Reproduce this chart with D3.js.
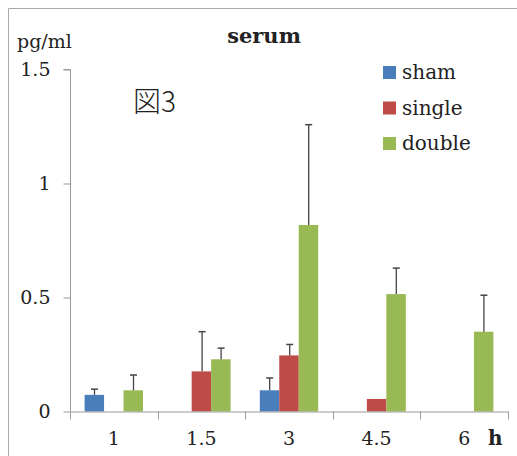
<!DOCTYPE html>
<html>
<head>
<meta charset="utf-8">
<script src="https://cdn.jsdelivr.net/npm/d3@7"></script>
<style>
  body { margin: 0; background: #fff; overflow: hidden; }
  svg { display: block; }
  text { font-family: "DejaVu Serif", "Liberation Serif", serif; fill: #222; }
</style>
</head>
<body>
<div id="chart"></div>
<script>
var width = 517;
var height = 456;

var categories = ["1", "1.5", "3", "4.5", "6"];
var seriesNames = ["sham", "single", "double"];
var seriesColors = ["#4a7ebb", "#be4b48", "#98b954"];
// mean values, 0 where no bar
var shamValues = [0.073, 0, 0.093, 0, 0];
var singleValues = [0, 0.176, 0.246, 0.055, 0];
var doubleValues = [0.093, 0.229, 0.818, 0.515, 0.35];
// upper end of error bar, null when none
var shamErr = [0.098, null, 0.147, null, null];
var singleErr = [null, 0.35, 0.294, null, null];
var doubleErr = [0.16, 0.278, 1.258, 0.629, 0.51];
var yTicks = [0, 0.5, 1, 1.5];

var allValues = [shamValues, singleValues, doubleValues];
var allErr = [shamErr, singleErr, doubleErr];

const svg = d3.select("#chart")
  .append("svg")
  .attr("width", width)
  .attr("height", height);

// outer frame
svg.append("path")
  .attr("d", "M8.5," + height + "V8.5H" + width)
  .attr("fill", "none")
  .attr("stroke", "#aaa")
  .attr("stroke-width", 1);

var x = d3.scaleBand().domain(categories).range([70, 508]);
var inner = d3.scaleBand().domain(seriesNames)
  .range([0, x.bandwidth()])
  .paddingOuter(0.75);
var y = d3.scaleLinear().domain([0, 1.5]).range([411.5, 69.5]);

// y axis
var yAxis = svg.append("g")
  .attr("transform", "translate(70.5,0)")
  .call(d3.axisLeft(y).tickValues(yTicks).tickSize(7).tickFormat(d => d));
yAxis.selectAll("line, path").attr("stroke", "#999");
yAxis.select(".domain").attr("d", "M-7," + y(1.5) + "H0V" + y(0));
yAxis.selectAll("text")
  .attr("x", -20)
  .style("font-family", "DejaVu Serif")
  .style("font-size", "19px")
  .attr("fill", "#222");

// bars
var groups = svg.append("g")
  .selectAll("g")
  .data(categories)
  .join("g")
  .attr("transform", d => "translate(" + x(d) + ",0)");

seriesNames.forEach(function(s, si) {
  groups.append("rect")
    .attr("x", (d, i) => inner(s))
    .attr("width", inner.bandwidth())
    .attr("y", (d, i) => y(allValues[si][i]))
    .attr("height", (d, i) => y(0) - y(allValues[si][i]))
    .attr("fill", seriesColors[si]);

  groups.each(function(d, i) {
    var e = allErr[si][i];
    if (e === null) return;
    var cx = Math.round(inner(s) + inner.bandwidth() / 2) + 0.5;
    var g = d3.select(this);
    g.append("line")
      .attr("x1", cx).attr("x2", cx)
      .attr("y1", y(allValues[si][i])).attr("y2", y(e))
      .attr("stroke", "#444").attr("stroke-width", 1.3);
    g.append("line")
      .attr("x1", cx - 3.5).attr("x2", cx + 3.5)
      .attr("y1", y(e)).attr("y2", y(e))
      .attr("stroke", "#444").attr("stroke-width", 1.5);
  });
});

// x axis
var xAxis = svg.append("g")
  .attr("transform", "translate(0," + y(0) + ")")
  .call(d3.axisBottom(x).tickSize(0).tickPadding(20));
xAxis.select(".domain").attr("stroke", "#999");
xAxis.selectAll("text")
  .style("font-family", "DejaVu Serif")
  .style("font-size", "19px")
  .attr("fill", "#222");
svg.append("g")
  .selectAll("line")
  .data(categories.concat(["end"]))
  .join("line")
  .attr("x1", (d, i) => Math.round(70 + i * x.step()) + 0.5)
  .attr("x2", (d, i) => Math.round(70 + i * x.step()) + 0.5)
  .attr("y1", y(0)).attr("y2", y(0) + 8)
  .attr("stroke", "#999");

// titles and labels
svg.append("text")
  .attr("x", 264).attr("y", 43)
  .attr("text-anchor", "middle")
  .style("font-size", "21px")
  .style("font-weight", "bold")
  .text("serum");

svg.append("text")
  .attr("x", 17).attr("y", 48)
  .style("font-size", "19px")
  .text("pg/ml");

svg.append("text")
  .attr("x", 488).attr("y", 445)
  .style("font-size", "20px")
  .style("font-weight", "bold")
  .text("h");

svg.append("text")
  .attr("x", 133).attr("y", 112)
  .style("font-size", "28px")
  .style("font-family", "'Noto Sans CJK JP', 'DejaVu Serif', serif")
  .style("font-weight", "300")
  .text("図3");

// legend
var legend = svg.append("g")
  .selectAll("g")
  .data(seriesNames)
  .join("g")
  .attr("transform", (d, i) => "translate(383," + (66 + i * 35.5) + ")");
legend.append("rect")
  .attr("width", 13).attr("height", 13)
  .attr("fill", (d, i) => seriesColors[i]);
legend.append("text")
  .attr("x", 19).attr("y", 13)
  .style("font-size", "20px")
  .text(d => d);
</script>
</body>
</html>
